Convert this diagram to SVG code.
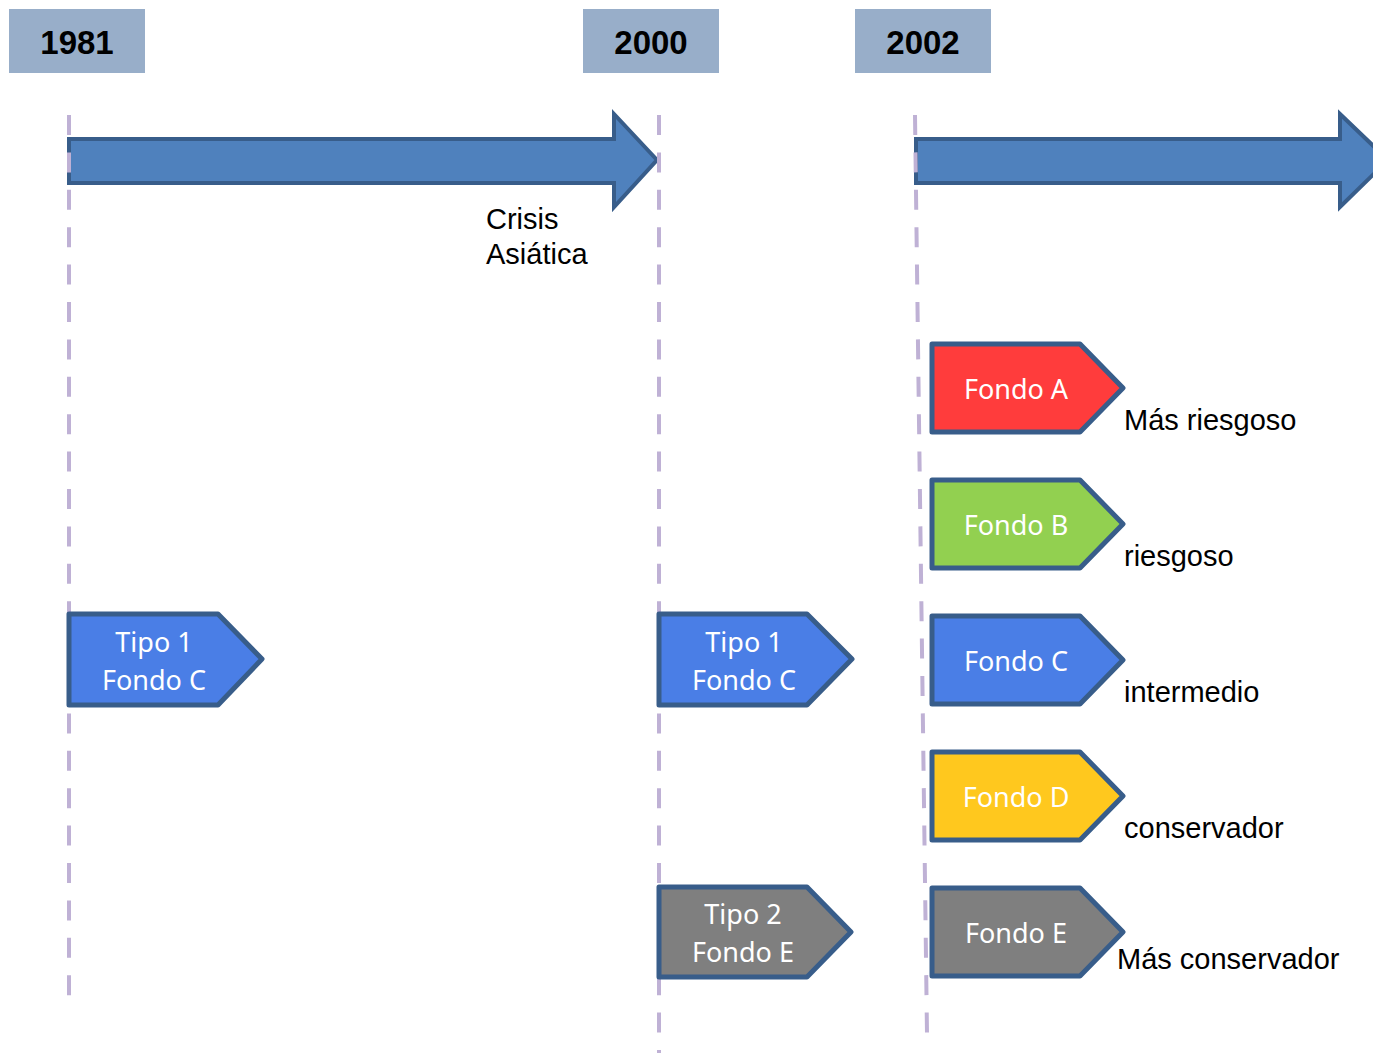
<svg xmlns="http://www.w3.org/2000/svg" width="1373" height="1053" viewBox="0 0 1373 1053">
<style>
.yr{fill:#98aec9}
.yt{font-family:"Liberation Sans",Arial,sans-serif;font-weight:bold;font-size:33px;fill:#000;text-anchor:middle}
.arr{fill:#4f81bd;stroke:#385d8a;stroke-width:4;stroke-linejoin:miter}
.dash{stroke:#bfb1d5;stroke-width:4;stroke-dasharray:20 17.4;fill:none}
.nd{stroke:#385d8a;stroke-width:5;stroke-linejoin:round}
.nt{font-family:"Noto Sans","Liberation Sans",sans-serif;font-size:27px;fill:#fff;text-anchor:middle}
.lb{font-family:"Liberation Sans",Arial,sans-serif;font-size:29px;fill:#000}
</style>
<rect width="1373" height="1053" fill="#fff"/>
<g id="year-1981"><rect class="yr" x="9" y="9" width="136" height="64"/><text class="yt" x="77" y="54">1981</text></g>
<g id="year-2000"><rect class="yr" x="583" y="9" width="136" height="64"/><text class="yt" x="651" y="54">2000</text></g>
<g id="year-2002"><rect class="yr" x="855" y="9" width="136" height="64"/><text class="yt" x="923" y="54">2002</text></g>
<g id="connectors">
<path class="arr" d="M69,139 L614,139 L614,114 L657,160 L614,207 L614,183 L69,183 Z"/>
<path class="arr" d="M916,139 L1340,139 L1340,114 L1388,160 L1340,207 L1340,183 L916,183 Z"/>
<line class="dash" x1="69" y1="115" x2="69" y2="996"/>
<line class="dash" x1="659" y1="115" x2="659" y2="1053"/>
<line class="dash" x1="915" y1="115" x2="927" y2="1034"/>
</g>
<g id="crisis"><text class="lb" x="486" y="229">Crisis</text><text class="lb" x="486" y="264">Asiática</text></g>
<g id="n1981"><path class="nd" fill="#4a7ee6" d="M69,614 L218,614 L262,659 L218,705 L69,705 Z"/><text class="nt" x="154" y="652">Tipo 1</text><text class="nt" x="154" y="690">Fondo C</text></g>
<g id="n2000a"><path class="nd" fill="#4a7ee6" d="M659,614 L807,614 L852,659 L807,705 L659,705 Z"/><text class="nt" x="744" y="652">Tipo 1</text><text class="nt" x="744" y="690">Fondo C</text></g>
<g id="n2000b"><path class="nd" fill="#7f7f7f" d="M659,887 L807,887 L851,932 L807,977 L659,977 Z"/><text class="nt" x="743" y="924">Tipo 2</text><text class="nt" x="743" y="962">Fondo E</text></g>
<g id="fondoA"><path class="nd" fill="#ff3c3c" d="M932,344 L1080,344 L1123,388 L1080,432 L932,432 Z"/><text class="nt" x="1016" y="399">Fondo A</text><text class="lb" x="1124" y="430">Más riesgoso</text></g>
<g id="fondoB"><path class="nd" fill="#92d050" d="M932,480 L1080,480 L1123,524 L1080,568 L932,568 Z"/><text class="nt" x="1016" y="535">Fondo B</text><text class="lb" x="1124" y="566">riesgoso</text></g>
<g id="fondoC"><path class="nd" fill="#4a7ee6" d="M932,616 L1080,616 L1123,660 L1080,704 L932,704 Z"/><text class="nt" x="1016" y="671">Fondo C</text><text class="lb" x="1124" y="702">intermedio</text></g>
<g id="fondoD"><path class="nd" fill="#ffc81e" d="M932,752 L1080,752 L1123,796 L1080,840 L932,840 Z"/><text class="nt" x="1016" y="807">Fondo D</text><text class="lb" x="1124" y="838">conservador</text></g>
<g id="fondoE"><path class="nd" fill="#7f7f7f" d="M932,888 L1080,888 L1123,932 L1080,976 L932,976 Z"/><text class="nt" x="1016" y="943">Fondo E</text><text class="lb" x="1117" y="969">Más conservador</text></g>
</svg>
